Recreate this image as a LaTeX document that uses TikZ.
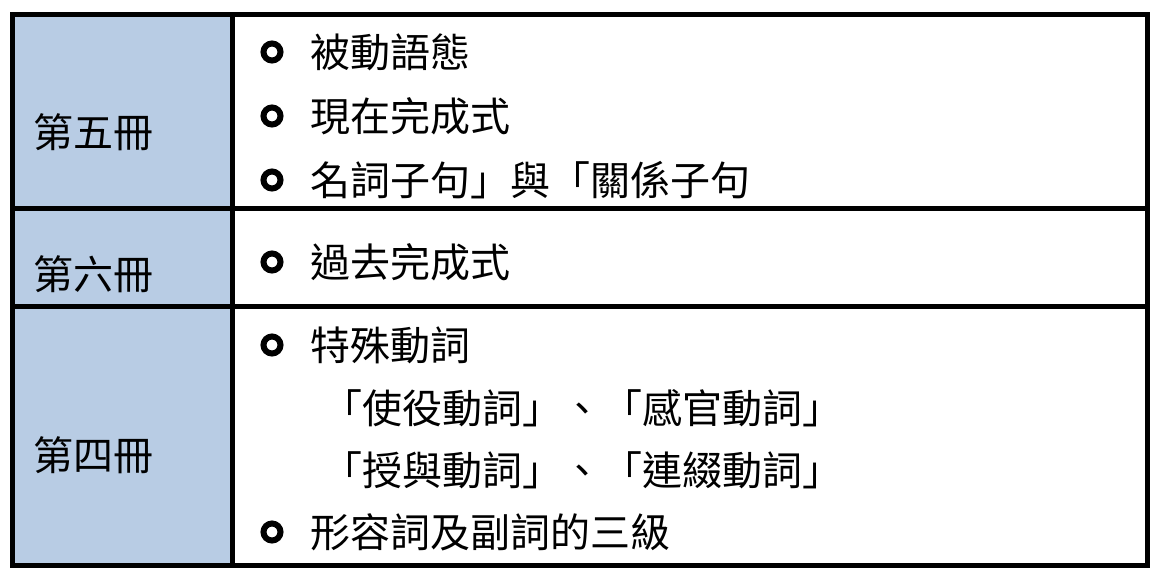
\documentclass[tikz,border=0pt]{standalone}
\usepackage{fontspec}
\newfontfamily\cjk{Noto Sans CJK TC}
\definecolor{lab}{HTML}{B8CCE4}
\begin{document}
\begin{tikzpicture}[x=1pt,y=-1pt,
  txt/.style={anchor=west,font=\cjk\fontsize{40}{44}\selectfont,inner sep=0},
  bul/.style={circle,draw=black,line width=6pt,minimum size=17pt,inner sep=0}]
\useasboundingbox (0,0) rectangle (1160,581);
\fill[lab] (12,14) rectangle (232,565);
\draw[line width=5pt] (12,14) rectangle (1147,565);
\draw[line width=5pt] (232,14) -- (232,565);
\draw[line width=5pt] (12,208) -- (1147,208);
\draw[line width=5pt] (12,306) -- (1147,306);
\node[txt] (l1) at (33,132) {第五冊};
\node[txt] (l2) at (33,274) {第六冊};
\node[txt] (l3) at (33,455) {第四冊};
\foreach \y/\t [count=\i] in {52/被動語態,116/現在完成式,180/名詞子句」與「關係子句,262/過去完成式,345/特殊動詞,532/形容詞及副詞的三級}{
  \node[bul] (b\i) at (272,\y) {};
  \node[txt] (t\i) at (310,\y) {\t};
}
\node[txt] (s1) at (322,408) {「使役動詞」、「感官動詞」};
\node[txt] (s2) at (322,470) {「授與動詞」、「連綴動詞」};
\end{tikzpicture}
\end{document}
